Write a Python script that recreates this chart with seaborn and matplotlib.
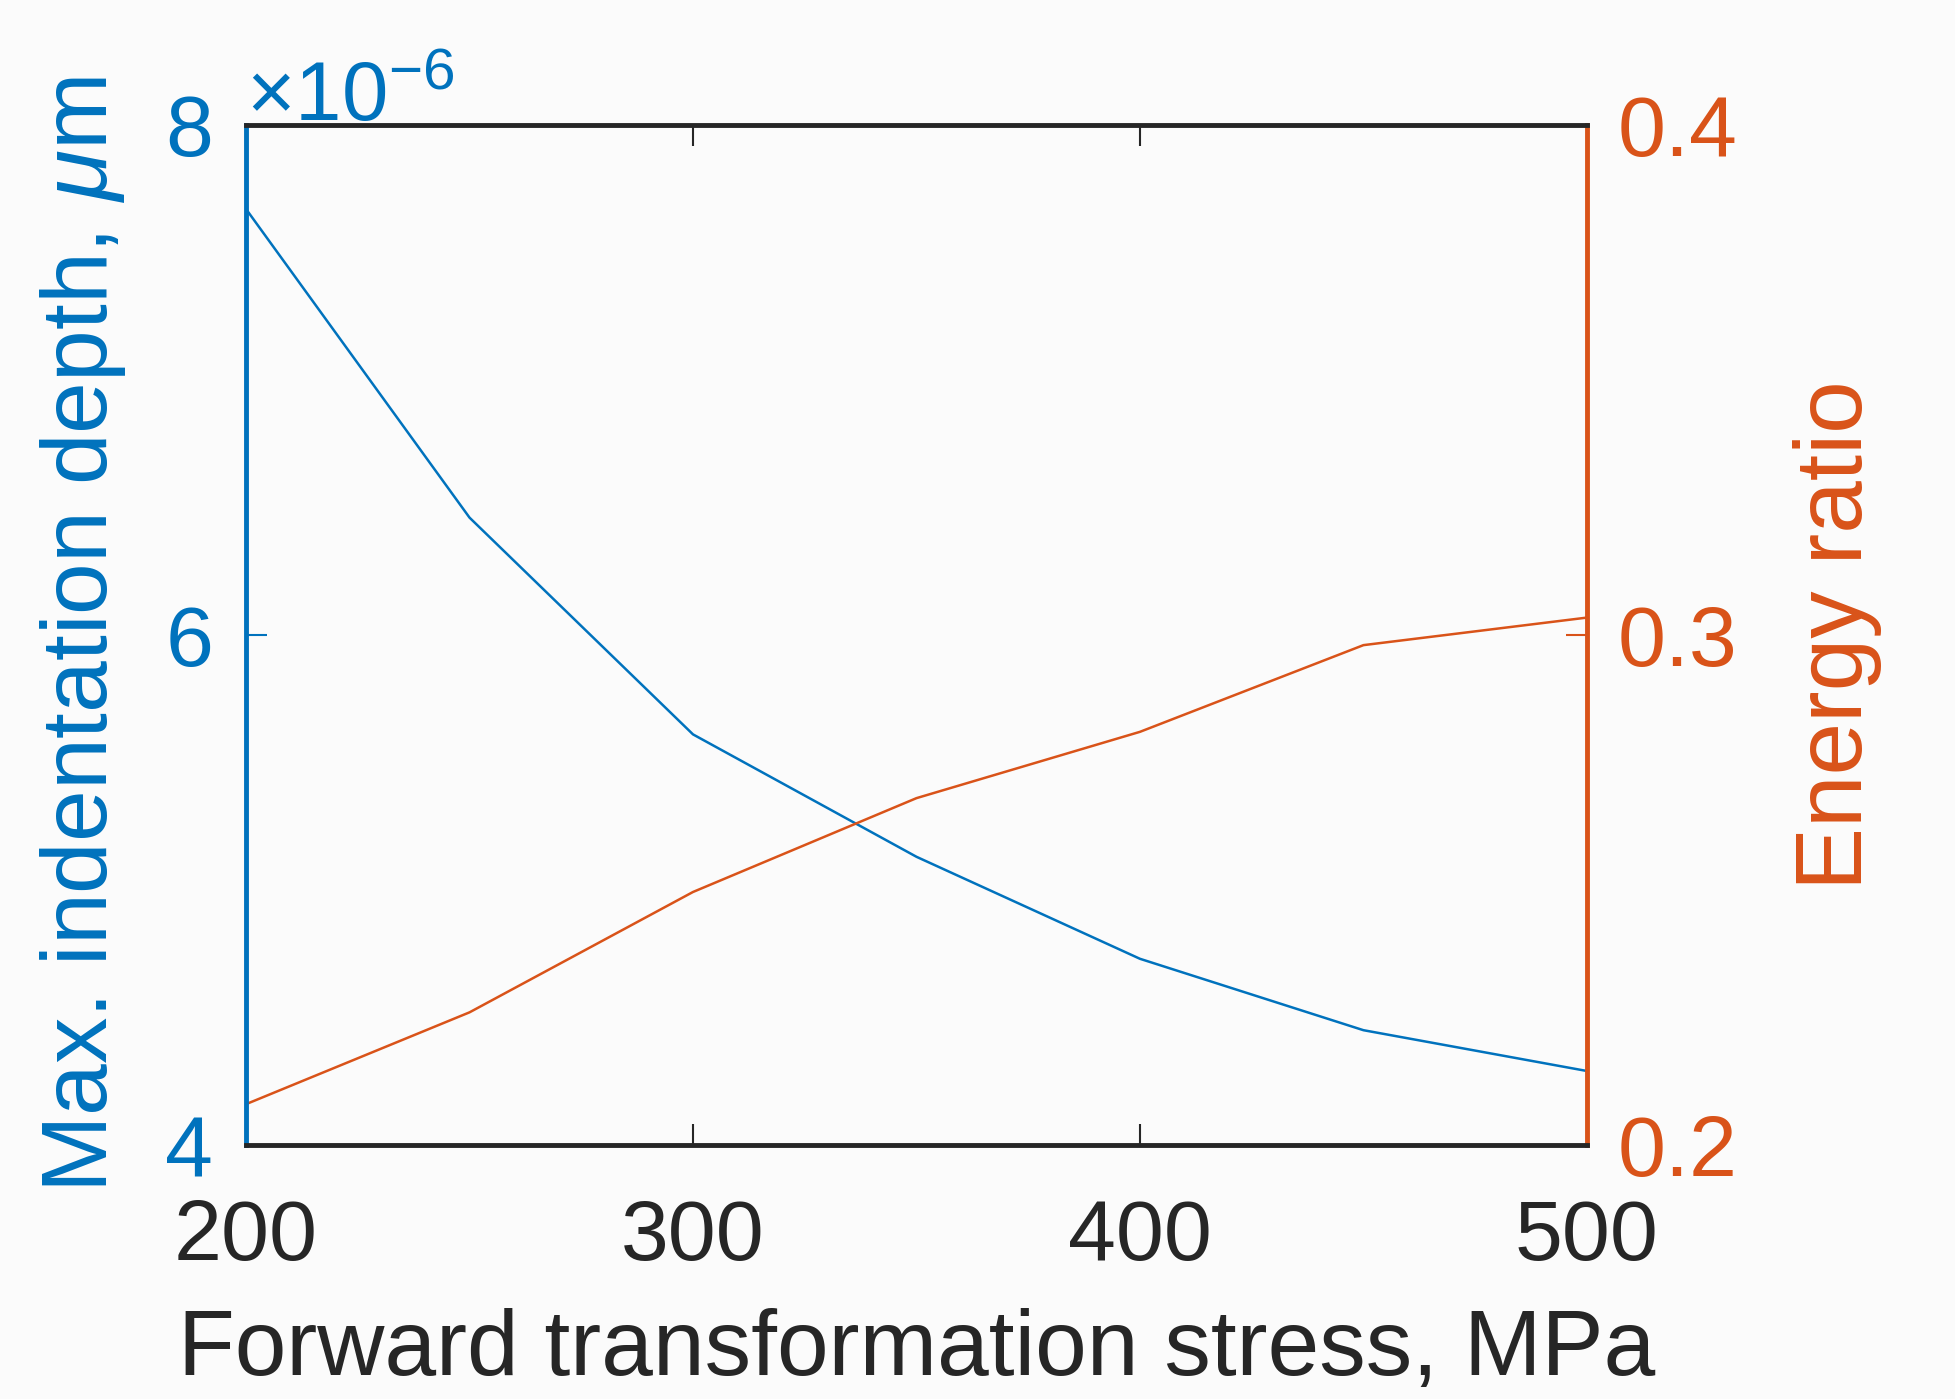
import matplotlib
matplotlib.use("Agg")
import matplotlib.pyplot as plt
import matplotlib.ticker as mticker
import seaborn as sns
import pandas as pd

# data
stress = [200, 250, 300, 350, 400, 450, 500]
depth = [7.67e-6, 6.46e-6, 5.61e-6, 5.13e-6, 4.73e-6, 4.45e-6, 4.29e-6]
energy = [0.208, 0.226, 0.2496, 0.268, 0.281, 0.298, 0.3034]

blue = "#0072BD"
orange = "#D95319"
dark = "#262626"

sns.set_style("ticks")
plt.rcParams["font.family"] = ["Liberation Sans", "DejaVu Sans"]
plt.rcParams["mathtext.fontset"] = "custom"
plt.rcParams["mathtext.rm"] = "Liberation Sans"
plt.rcParams["mathtext.it"] = "Liberation Sans:italic"

df = pd.DataFrame({"stress": stress, "depth": depth, "energy": energy})

fig = plt.figure(figsize=(19.56, 13.99), dpi=100, facecolor="#fbfbfb")
ax = fig.add_axes([0.1258, 0.1816, 0.6855, 0.7291])
ax.set_facecolor("#fbfbfb")
ax2 = ax.twinx()

sns.lineplot(data=df, x="stress", y="depth", ax=ax, color=blue, linewidth=1.8)
sns.lineplot(data=df, x="stress", y="energy", ax=ax2, color=orange, linewidth=1.8)

ax.set_xlim(200, 500)
ax.set_ylim(4e-6, 8e-6)
ax2.set_ylim(0.2, 0.4)

ax.set_xticks([200, 300, 400, 500])
ax.set_yticks([4e-6, 6e-6, 8e-6])
ax2.set_yticks([0.2, 0.3, 0.4])
ax2.set_yticklabels(["0.2", "0.3", "0.4"])

fmt = mticker.ScalarFormatter(useMathText=True)
fmt.set_powerlimits((0, 0))
ax.yaxis.set_major_formatter(fmt)
ax.yaxis.get_offset_text().set_fontsize(60)
ax.yaxis.get_offset_text().set_color(blue)

ax.tick_params(axis="x", direction="in", length=15, width=1.5, labelsize=62,
               colors=dark, pad=38, top=True)
ax.tick_params(axis="y", direction="in", length=15, width=1.5, labelsize=62,
               colors=blue, pad=25)
ax2.tick_params(axis="y", direction="in", length=15, width=1.5, labelsize=62,
                colors=orange, pad=22)

for sp in ["top", "bottom"]:
    ax2.spines[sp].set_color(dark)
    ax2.spines[sp].set_linewidth(3.5)
ax2.spines["left"].set_color(blue)
ax2.spines["right"].set_color(orange)
ax2.spines["left"].set_linewidth(3.5)
ax2.spines["right"].set_linewidth(3.5)
for sp in ax.spines.values():
    sp.set_visible(False)

ax.set_xlabel("Forward transformation stress, MPa", fontsize=67, color=dark, labelpad=22)
ax.set_ylabel(r"Max. indentation depth, $\mu$m", fontsize=67, color=blue, labelpad=26)
ax2.set_ylabel("Energy ratio", fontsize=68, color=orange, labelpad=40)

fig.savefig("out.png", dpi=100, facecolor=fig.get_facecolor())
